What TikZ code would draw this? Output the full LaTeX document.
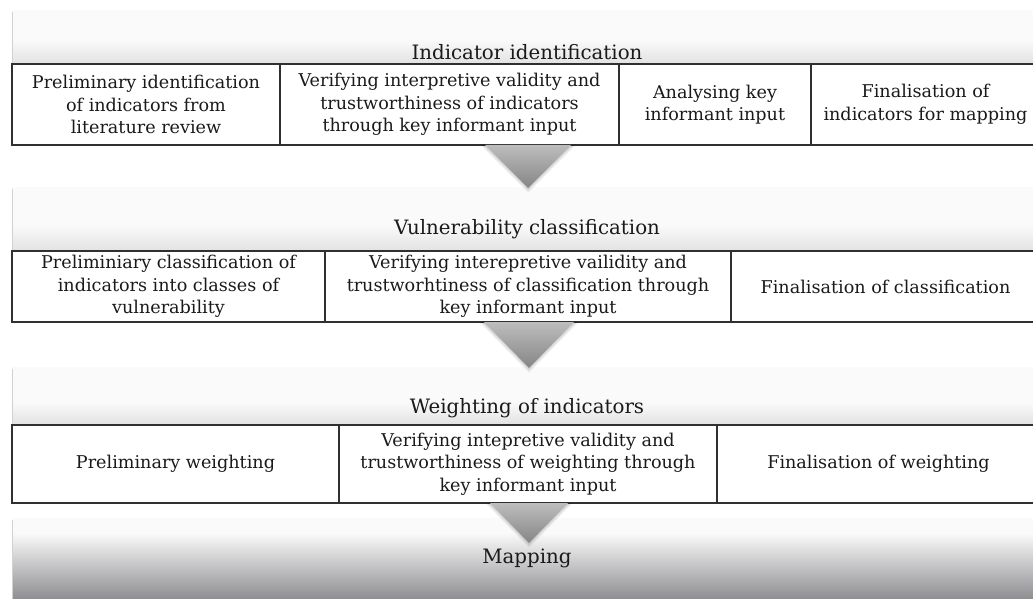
\documentclass[tikz,border=0pt]{standalone}
\usepackage{fontspec}
\setmainfont{DejaVu Serif}
\definecolor{bord}{HTML}{303030}
\definecolor{bandtop}{HTML}{FAFAFA}
\definecolor{bandbot}{HTML}{E2E2E2}
\definecolor{arrtop}{HTML}{BDBDBD}
\definecolor{arrbot}{HTML}{858585}
\definecolor{mapbot}{HTML}{8E8E92}
\definecolor{txt}{HTML}{1A1A1A}
\begin{document}
\begin{tikzpicture}[x=1pt,y=-1pt,
  cellbox/.style={draw=bord, line width=1.3pt, fill=white, align=center,
    inner sep=0pt, text=txt, font=\fontsize{17.6}{22.5}\selectfont},
  raisedbox/.style={cellbox, line width=2.2pt},
  bandtitle/.style={font=\fontsize{19.8}{24}\selectfont, text=txt, inner sep=0pt},
  bandedge/.style={draw=black!18, line width=1pt}
]
\useasboundingbox (0,0) rectangle (1033,599);
\fill[white] (0,0) rectangle (1033,599);

% ---- bands ----
\fill[bandtop] (12,10) rectangle (1033,40);
\shade[top color=bandtop, bottom color=bandbot] (12,40) rectangle (1033,64);
\draw[bandedge] (12.5,12) -- (12.5,64);

\fill[bandtop] (12,187) rectangle (1033,225);
\shade[top color=bandtop, bottom color=bandbot] (12,225) rectangle (1033,251);
\draw[bandedge] (12.5,189) -- (12.5,251);

\fill[bandtop] (12,367) rectangle (1033,402);
\shade[top color=bandtop, bottom color=bandbot] (12,402) rectangle (1033,425);
\draw[bandedge] (12.5,369) -- (12.5,425);

\fill[bandtop] (12,518) rectangle (1033,533);
\shade[top color=bandtop, bottom color=mapbot] (12,533) rectangle (1033,599);
\draw[bandedge] (12.5,520) -- (12.5,599);

% ---- titles ----
\node[bandtitle] (t1) at (527,52) {Indicator identification};
\node[bandtitle] (t2) at (527,229) {Vulnerability classification};
\node[bandtitle] (t3) at (527,408) {Weighting of indicators};

% ---- row 1 ----
\node[cellbox, minimum width=268, minimum height=81] (c11) at (146,104.5)
  {Preliminary identification\\of indicators from\\literature review};
\node[cellbox, minimum width=339, minimum height=81] (c12) at (449.5,104.5)
  {Verifying interpretive validity and\\trustworthiness of indicators\\through key informant input};
\node[cellbox, minimum width=192, minimum height=81] (c13) at (715,104.5)
  {Analysing key\\informant input};
\node[cellbox, minimum width=229, minimum height=81] (c14) at (925.5,104.5)
  {Finalisation of\\indicators for mapping};

% ---- row 2 ----
\node[cellbox, minimum width=313, minimum height=71] (c21) at (168.5,286.5)
  {Preliminiary classification of\\indicators into classes of\\vulnerability};
\node[cellbox, minimum width=406, minimum height=71] (c22) at (528,286.5)
  {Verifying interepretive vailidity and\\trustworhtiness of classification through\\key informant input};
\node[cellbox, minimum width=309, minimum height=71] (c23) at (885.5,286.5)
  {Finalisation of classification};

% ---- row 3 ----
\node[cellbox, minimum width=327, minimum height=78] (c31) at (175.5,464)
  {Preliminary weighting};
\node[cellbox, minimum width=323, minimum height=78] (c33) at (878.5,464)
  {Finalisation of weighting};
\node[raisedbox, minimum width=378, minimum height=78] (c32) at (528,464)
  {Verifying intepretive validity and\\trustworthiness of weighting through\\key informant input};

% ---- arrows ----
\foreach \ax/\ay/\hw/\h in {528/145/43/43, 529/322/45/46, 529/503/39/40}{
  \foreach \k in {1,...,5}{
    \fill[black, opacity=0.035]
      (\ax-\hw-\k,\ay) -- (\ax+\hw+\k,\ay) -- (\ax,\ay+\h+\k) -- cycle;
  }
  \shade[top color=arrtop, bottom color=arrbot]
    (\ax-\hw,\ay) -- (\ax+\hw,\ay) -- (\ax,\ay+\h) -- cycle;
}

\node[bandtitle] (t4) at (527,558) {Mapping};
\end{tikzpicture}
\end{document}
